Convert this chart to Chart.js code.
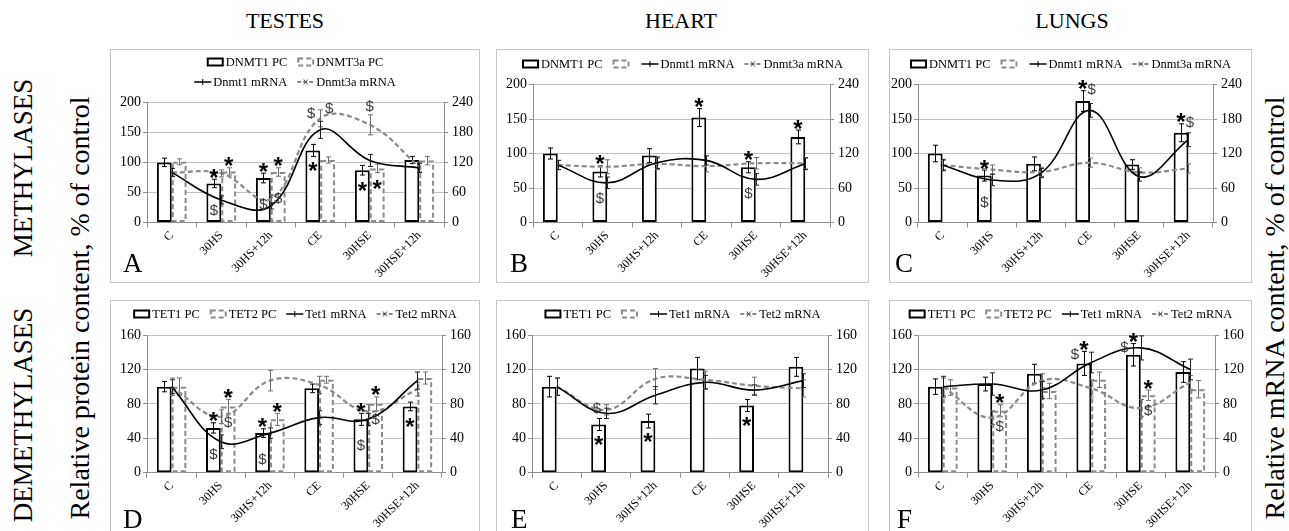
<!DOCTYPE html>
<html lang="en">
<head>
<meta charset="UTF-8">
<title>Methylases and demethylases in testes, heart and lungs</title>
<script src="https://cdn.jsdelivr.net/npm/chart.js"></script>
<style>
  html, body { margin: 0; padding: 0; }
  body { position: relative; width: 1289px; height: 531px; overflow: hidden; background: #fff;
         font-family: "Liberation Serif", "Times New Roman", serif; color: #000; }
  .panel { position: absolute; border: 1px solid #c6c6c6; box-sizing: border-box; background: #fff; }
  .panel canvas { position: absolute; left: 0; top: 0; }
  .lbl { position: absolute; white-space: nowrap; line-height: 1; }
  .title { font-size: 22px; transform: translate(-50%, -50%); }
  .vert { font-size: 27px; transform: translate(-50%, -50%) rotate(-90deg); }
  .axis { font-size: 28px; }
  .letter { position: absolute; font-size: 27px; line-height: 1; }
</style>
</head>
<body>
<div class="lbl title" style="left:285px; top:21px">TESTES</div>
<div class="lbl title" style="left:681px; top:21px">HEART</div>
<div class="lbl title" style="left:1072px; top:21px">LUNGS</div>
<div class="lbl vert" style="left:23px; top:168px">METHYLASES</div>
<div class="lbl vert" style="left:23px; top:415px">DEMETHYLASES</div>
<div class="lbl vert axis" style="left:80px; top:308px">Relative protein content, % of control</div>
<div class="lbl vert axis" style="left:1275px; top:308px">Relative mRNA content, % of control</div>

<script>
const categories = ['C', '30HS', '30HS+12h', 'CE', '30HSE', '30HSE+12h'];

// A - testes, methylases
const testesDnmt1PC = [100, 65, 74, 120, 87, 104];
const testesDnmt1PCErr = [7, 7, 8, 10, 8, 6];
const testesDnmt3aPC = [101, 85, 84, 104, 90, 103];
const testesDnmt3aPCErr = [5, 6, 7, 5, 7, 7];
const testesDnmt1mRNA = [100, 45, 33, 185, 124, 109];
const testesDnmt1mRNAErr = [8, 8, 6, 17, 12, 9];
const testesDnmt3amRNA = [100, 98, 47, 208, 195, 111];
const testesDnmt3amRNAErr = [8, 7, 8, 17, 20, 10];
const testesMethylMarks = [
  [0, 1, '*', 'top'], [0, 1, '$', 'low'], [1, 1, '*', 'top'],
  [0, 2, '*', 'top'], [0, 2, '$', 'low'], [1, 2, '*', 'top'], [1, 2, '$', 'low'],
  [0, 3, '*', 'in'], [3, 3, '$', 'tl'], [3, 3, '$', 'tr'],
  [0, 4, '*', 'in'], [1, 4, '*', 'in'], [3, 4, '$', 'top']
];

// B - heart, methylases
const heartDnmt1PC = [100, 74, 97, 152, 80, 124];
const heartDnmt1PCErr = [8, 8, 10, 13, 8, 10];
const heartDnmt3aPC = [null, null, null, null, null, null];
const heartDnmt3aPCErr = [0, 0, 0, 0, 0, 0];
const heartDnmt1mRNA = [100, 69, 104, 108, 75, 102];
const heartDnmt1mRNAErr = [8, 10, 10, 8, 10, 10];
const heartDnmt3amRNA = [100, 97, 102, 98, 103, 103];
const heartDnmt3amRNAErr = [8, 12, 10, 10, 10, 10];
const heartMethylMarks = [
  [0, 1, '*', 'top'], [0, 1, '$', 'low'], [0, 3, '*', 'top'],
  [0, 4, '*', 'top'], [0, 4, '$', 'low'], [0, 5, '*', 'top']
];

// C - lungs, methylases
const lungsDnmt1PC = [100, 68, 85, 176, 84, 130];
const lungsDnmt1PCErr = [12, 8, 10, 15, 7, 13];
const lungsDnmt3aPC = [null, null, null, null, null, null];
const lungsDnmt3aPCErr = [0, 0, 0, 0, 0, 0];
const lungsDnmt1mRNA = [100, 74, 86, 195, 80, 144];
const lungsDnmt1mRNAErr = [10, 10, 8, 12, 8, 12];
const lungsDnmt3amRNA = [100, 92, 88, 104, 87, 94];
const lungsDnmt3amRNAErr = [8, 8, 8, 8, 8, 8];
const lungsMethylMarks = [
  [0, 1, '*', 'top'], [0, 1, '$', 'low'], [0, 3, '*', 'top'], [0, 3, '$', 'tr'],
  [0, 5, '*', 'top'], [0, 5, '$', 'tr']
];

// D - testes, demethylases
const testesTet1PC = [100, 52, 46, 98, 62, 77];
const testesTet1PCErr = [6, 6, 5, 5, 7, 5];
const testesTet2PC = [100, 77, 62, 108, 80, 110];
const testesTet2PCErr = [10, 8, 7, 4, 8, 7];
const testesTet1mRNA = [100, 36, 46, 64, 62, 107];
const testesTet1mRNAErr = [8, 8, 6, 8, 7, 10];
const testesTet2mRNA = [100, 65, 107, 102, 71, 97];
const testesTet2mRNAErr = [10, 8, 12, 10, 8, 8];
const testesDemethylMarks = [
  [0, 1, '*', 'top'], [0, 1, '$', 'low'], [1, 1, '*', 'top'], [1, 1, '$', 'in'],
  [0, 2, '*', 'top'], [0, 2, '$', 'low'], [1, 2, '*', 'top'],
  [0, 4, '*', 'top'], [0, 4, '$', 'low'], [1, 4, '*', 'top'], [1, 4, '$', 'in'],
  [0, 5, '*', 'in']
];

// E - heart, demethylases
const heartTet1PC = [100, 56, 60, 121, 78, 123];
const heartTet1PCErr = [12, 7, 8, 13, 7, 11];
const heartTet2PC = [null, null, null, null, null, null];
const heartTet2PCErr = [0, 0, 0, 0, 0, 0];
const heartTet1mRNA = [100, 69, 90, 105, 96, 107];
const heartTet1mRNAErr = [10, 6, 10, 8, 6, 8];
const heartTet2mRNA = [100, 73, 109, 108, 101, 98];
const heartTet2mRNAErr = [10, 6, 12, 10, 10, 10];
const heartDemethylMarks = [
  [0, 1, '*', 'in'], [0, 2, '*', 'in'], [0, 4, '*', 'in'], [3, 1, '$', 'tl']
];

// F - lungs, demethylases
const lungsTet1PC = [100, 103, 115, 127, 137, 117];
const lungsTet1PCErr = [9, 8, 11, 14, 13, 12];
const lungsTet2PC = [99, 72, 95, 108, 90, 97];
const lungsTet2PCErr = [9, 7, 9, 9, 6, 10];
const lungsTet1mRNA = [100, 103, 96, 128, 145, 120];
const lungsTet1mRNAErr = [12, 13, 10, 12, 14, 12];
const lungsTet2mRNA = [100, 64, 107, 98, 75, 105];
const lungsTet2mRNAErr = [10, 8, 8, 10, 10, 8];
const lungsDemethylMarks = [
  [1, 1, '*', 'top'], [1, 1, '$', 'in'], [0, 3, '*', 'top'], [0, 3, '$', 'tl'],
  [0, 4, '*', 'top'], [0, 4, '$', 'tl'], [1, 4, '*', 'top'], [1, 4, '$', 'in']
];

const FONT = '"Liberation Serif", "Times New Roman", serif';
const GRID = '#c2c2c2', AXIS = '#8e8e8e', GREY = '#8a8a8a';

function drawSymbol(ctx, s, x, y) {
  ctx.save();
  ctx.textAlign = 'center';
  if (s === '*') {
    ctx.font = 'bold 24px "Liberation Sans", Arial, sans-serif';
    ctx.fillStyle = '#000';
    ctx.textBaseline = 'alphabetic';
    ctx.fillText('*', x, y + 13.5);
  } else {
    ctx.font = '15px "Liberation Sans", Arial, sans-serif';
    ctx.fillStyle = '#3c3c3c';
    ctx.textBaseline = 'middle';
    ctx.fillText(s, x, y + 1);
  }
  ctx.restore();
}

function drawIcon(ctx, look, x, y) {
  ctx.save();
  if (look === 'bar' || look === 'dashbar') {
    ctx.lineWidth = 2;
    ctx.strokeStyle = look === 'bar' ? '#000' : GREY;
    if (look === 'dashbar') ctx.setLineDash([5, 3]);
    ctx.strokeRect(x + 1, y - 3.5, 15, 7);
  } else if (look === 'line') {
    ctx.strokeStyle = '#000';
    ctx.lineWidth = 1.5;
    ctx.beginPath(); ctx.moveTo(x, y); ctx.lineTo(x + 17, y); ctx.stroke();
    ctx.lineWidth = 1;
    ctx.beginPath(); ctx.moveTo(x + 8.5, y - 3); ctx.lineTo(x + 8.5, y + 3); ctx.stroke();
  } else {
    ctx.strokeStyle = GREY;
    ctx.lineWidth = 2;
    ctx.setLineDash([4, 2]);
    ctx.beginPath(); ctx.moveTo(x, y); ctx.lineTo(x + 17, y); ctx.stroke();
    ctx.setLineDash([]);
    ctx.lineWidth = 1;
    ctx.strokeStyle = '#555';
    ctx.beginPath();
    ctx.moveTo(x + 6.5, y - 2.5); ctx.lineTo(x + 10.5, y + 2.5);
    ctx.moveTo(x + 10.5, y - 2.5); ctx.lineTo(x + 6.5, y + 2.5);
    ctx.stroke();
  }
  ctx.restore();
}

const dashedBars = {
  id: 'dashedBars',
  afterDatasetDraw(chart, args) {
    const ds = chart.data.datasets[args.index];
    if (ds.look !== 'dashbar') return;
    const ctx = chart.ctx;
    ctx.save();
    ctx.strokeStyle = GREY;
    ctx.lineWidth = 2;
    ctx.setLineDash([5, 3]);
    args.meta.data.forEach((el, i) => {
      if (ds.data[i] == null) return;
      const p = el.getProps(['x', 'y', 'base', 'width'], true);
      ctx.strokeRect(p.x - p.width / 2 + 1, p.y + 1, p.width - 2, p.base - p.y - 2);
    });
    ctx.restore();
  }
};

const errorBars = {
  id: 'errorBars',
  afterDatasetDraw(chart, args) {
    const ds = chart.data.datasets[args.index];
    if (!ds.err) return;
    const sc = chart.scales[ds.yAxisID];
    const ctx = chart.ctx;
    ctx.save();
    ctx.strokeStyle = ds.errColor;
    ctx.lineWidth = 1;
    args.meta.data.forEach((el, i) => {
      const v = ds.data[i];
      if (v == null) return;
      const x = Math.round(el.x) + 0.5;
      const y1 = sc.getPixelForValue(v + ds.err[i]);
      const y2 = sc.getPixelForValue(v - ds.err[i]);
      ctx.beginPath();
      ctx.moveTo(x, y1); ctx.lineTo(x, y2);
      ctx.moveTo(x - 2.5, y1); ctx.lineTo(x + 2.5, y1);
      ctx.moveTo(x - 2.5, y2); ctx.lineTo(x + 2.5, y2);
      ctx.stroke();
    });
    ctx.restore();
  }
};

const marks = {
  id: 'marks',
  afterDatasetsDraw(chart, args, opts) {
    const ctx = chart.ctx;
    (opts.list || []).forEach(([d, i, s, at]) => {
      const ds = chart.data.datasets[d];
      const el = chart.getDatasetMeta(d).data[i];
      const sc = chart.scales[ds.yAxisID];
      const v = ds.data[i];
      const top = sc.getPixelForValue(v + ds.err[i]);
      let x = el.x, y;
      if (at === 'top') y = top - (s === '$' ? 9 : 7);
      else if (at === 'in') y = sc.getPixelForValue(v) + 15;
      else if (at === 'low') y = Math.min(sc.getPixelForValue(v) + 26, sc.getPixelForValue(0) - 12);
      else if (at === 'tl') { x -= 9; y = top + 3; }
      else { x += 9; y = top - 2; }
      drawSymbol(ctx, s, x, y);
    });
  }
};

const rowLegend = {
  id: 'rowLegend',
  afterDraw(chart, args, opts) {
    const ctx = chart.ctx;
    ctx.save();
    ctx.font = '12.5px ' + FONT;
    ctx.textBaseline = 'middle';
    ctx.fillStyle = '#000';
    opts.rows.forEach((row, r) => {
      const items = row.map(d => {
        const ds = chart.data.datasets[d];
        return { ds, w: 19 + ctx.measureText(ds.label).width };
      });
      const total = items.reduce((a, it) => a + it.w, 0) + 10 * (items.length - 1);
      let x = (chart.width - total) / 2;
      const y = opts.ys[r];
      items.forEach(it => {
        drawIcon(ctx, it.ds.look, x, y);
        ctx.fillText(it.ds.label, x + 19, y + 1);
        x += it.w + 10;
      });
    });
    ctx.restore();
  }
};

function buildSets(labels, pc1, pc1Err, pc2, pc2Err, m1, m1Err, m2, m2Err) {
  const bar = { type: 'bar', yAxisID: 'y', order: 1, barPercentage: 1, categoryPercentage: 0.6,
                borderSkipped: false, backgroundColor: '#fff' };
  const line = { type: 'line', yAxisID: 'y1', order: 0, pointRadius: 0, tension: 0.4, fill: false };
  return [
    { ...bar, label: labels[0], data: pc1, err: pc1Err, look: 'bar', errColor: '#000',
      borderColor: '#000', borderWidth: 2 },
    { ...bar, label: labels[1], data: pc2, err: pc2Err, look: 'dashbar', errColor: '#6e6e6e',
      borderWidth: 0 },
    { ...line, label: labels[2], data: m1, err: m1Err, look: 'line', errColor: '#222',
      borderColor: '#000', borderWidth: 1.6 },
    { ...line, label: labels[3], data: m2, err: m2Err, look: 'dashline', errColor: '#6e6e6e',
      borderColor: GREY, borderWidth: 2.2, borderDash: [5, 3] }
  ];
}

function yAxis(pos, max, step, width) {
  return {
    type: 'linear', position: pos, min: 0, max,
    ticks: { stepSize: step, color: '#000', font: { family: FONT, size: 14 }, padding: pos === 'left' ? 2 : 4 },
    grid: { color: GRID, drawOnChartArea: pos === 'left', tickLength: 4, tickColor: AXIS },
    border: { color: AXIS },
    afterFit: s => { s.width = width; }
  };
}

function makePanel(p) {
  const div = document.createElement('div');
  div.className = 'panel';
  div.style.left = p.box[0] + 'px';
  div.style.top = p.box[1] + 'px';
  div.style.width = p.box[2] + 'px';
  div.style.height = p.box[3] + 'px';
  const W = p.box[2] - 2, H = p.box[3] - 2;
  const cv = document.createElement('canvas');
  cv.width = W;
  cv.height = H;
  div.appendChild(cv);
  const letter = document.createElement('div');
  letter.className = 'letter';
  letter.textContent = p.letter;
  letter.style.left = p.letterPos[0] + 'px';
  letter.style.top = p.letterPos[1] + 'px';
  div.appendChild(letter);
  document.body.appendChild(div);

  const ox = p.box[0] + 1, oy = p.box[1] + 1;
  const wl = p.plot[0] - ox;
  const wr = W - (p.plot[2] - ox);
  const pt = p.plot[1] - oy;
  const hb = H - (p.plot[3] - oy);

  new Chart(cv, {
    type: 'bar',
    data: { labels: categories, datasets: p.sets },
    options: {
      responsive: false,
      animation: false,
      devicePixelRatio: 1,
      layout: { padding: { top: pt, left: 0, right: 0, bottom: 0 } },
      plugins: {
        legend: { display: false },
        tooltip: { enabled: false },
        rowLegend: { rows: p.rows, ys: p.ys },
        marks: { list: p.marks }
      },
      scales: {
        x: {
          ticks: { color: '#000', font: { family: FONT, size: 12 }, maxRotation: 45, minRotation: 45,
                   autoSkip: false, padding: 1 },
          grid: { offset: true, drawOnChartArea: false, tickLength: 5, tickColor: AXIS, color: AXIS },
          border: { color: AXIS },
          afterFit: s => { s.height = hb; }
        },
        y: yAxis('left', p.max, p.step, wl),
        y1: yAxis('right', p.max2, p.step2, wr)
      }
    },
    plugins: [dashedBars, errorBars, marks, rowLegend]
  });
}

makePanel({
  box: [110, 49, 370, 234], plot: [147, 102.3, 444, 222.5], letter: 'A', letterPos: [12, 200],
  max: 200, step: 50, max2: 240, step2: 60, rows: [[0, 1], [2, 3]], ys: [12, 32],
  sets: buildSets(['DNMT1 PC', 'DNMT3a PC', 'Dnmt1 mRNA', 'Dnmt3a mRNA'],
    testesDnmt1PC, testesDnmt1PCErr, testesDnmt3aPC, testesDnmt3aPCErr,
    testesDnmt1mRNA, testesDnmt1mRNAErr, testesDnmt3amRNA, testesDnmt3amRNAErr),
  marks: testesMethylMarks
});
makePanel({
  box: [496, 49, 373, 234], plot: [533, 84.5, 830, 222.5], letter: 'B', letterPos: [13, 200],
  max: 200, step: 50, max2: 240, step2: 60, rows: [[0, 1, 2, 3]], ys: [14],
  sets: buildSets(['DNMT1 PC', '', 'Dnmt1 mRNA', 'Dnmt3a mRNA'],
    heartDnmt1PC, heartDnmt1PCErr, heartDnmt3aPC, heartDnmt3aPCErr,
    heartDnmt1mRNA, heartDnmt1mRNAErr, heartDnmt3amRNA, heartDnmt3amRNAErr),
  marks: heartMethylMarks
});
makePanel({
  box: [889, 49, 363, 234], plot: [918, 84.5, 1213, 222.5], letter: 'C', letterPos: [5, 200],
  max: 200, step: 50, max2: 240, step2: 60, rows: [[0, 1, 2, 3]], ys: [14],
  sets: buildSets(['DNMT1 PC', '', 'Dnmt1 mRNA', 'Dnmt3a mRNA'],
    lungsDnmt1PC, lungsDnmt1PCErr, lungsDnmt3aPC, lungsDnmt3aPCErr,
    lungsDnmt1mRNA, lungsDnmt1mRNAErr, lungsDnmt3amRNA, lungsDnmt3amRNAErr),
  marks: lungsMethylMarks
});
makePanel({
  box: [110, 300, 370, 260], plot: [147, 335, 442, 472.7], letter: 'D', letterPos: [12, 205],
  max: 160, step: 40, max2: 160, step2: 40, rows: [[0, 1, 2, 3]], ys: [13],
  sets: buildSets(['TET1 PC', 'TET2 PC', 'Tet1 mRNA', 'Tet2 mRNA'],
    testesTet1PC, testesTet1PCErr, testesTet2PC, testesTet2PCErr,
    testesTet1mRNA, testesTet1mRNAErr, testesTet2mRNA, testesTet2mRNAErr),
  marks: testesDemethylMarks
});
makePanel({
  box: [496, 300, 373, 260], plot: [532, 335, 828, 472.7], letter: 'E', letterPos: [14, 205],
  max: 160, step: 40, max2: 160, step2: 40, rows: [[0, 1, 2, 3]], ys: [13],
  sets: buildSets(['TET1 PC', '', 'Tet1 mRNA', 'Tet2 mRNA'],
    heartTet1PC, heartTet1PCErr, heartTet2PC, heartTet2PCErr,
    heartTet1mRNA, heartTet1mRNAErr, heartTet2mRNA, heartTet2mRNAErr),
  marks: heartDemethylMarks
});
makePanel({
  box: [889, 300, 363, 260], plot: [918, 335, 1215, 472.7], letter: 'F', letterPos: [7, 205],
  max: 160, step: 40, max2: 160, step2: 40, rows: [[0, 1, 2, 3]], ys: [13],
  sets: buildSets(['TET1 PC', 'TET2 PC', 'Tet1 mRNA', 'Tet2 mRNA'],
    lungsTet1PC, lungsTet1PCErr, lungsTet2PC, lungsTet2PCErr,
    lungsTet1mRNA, lungsTet1mRNAErr, lungsTet2mRNA, lungsTet2mRNAErr),
  marks: lungsDemethylMarks
});
</script>
</body>
</html>
